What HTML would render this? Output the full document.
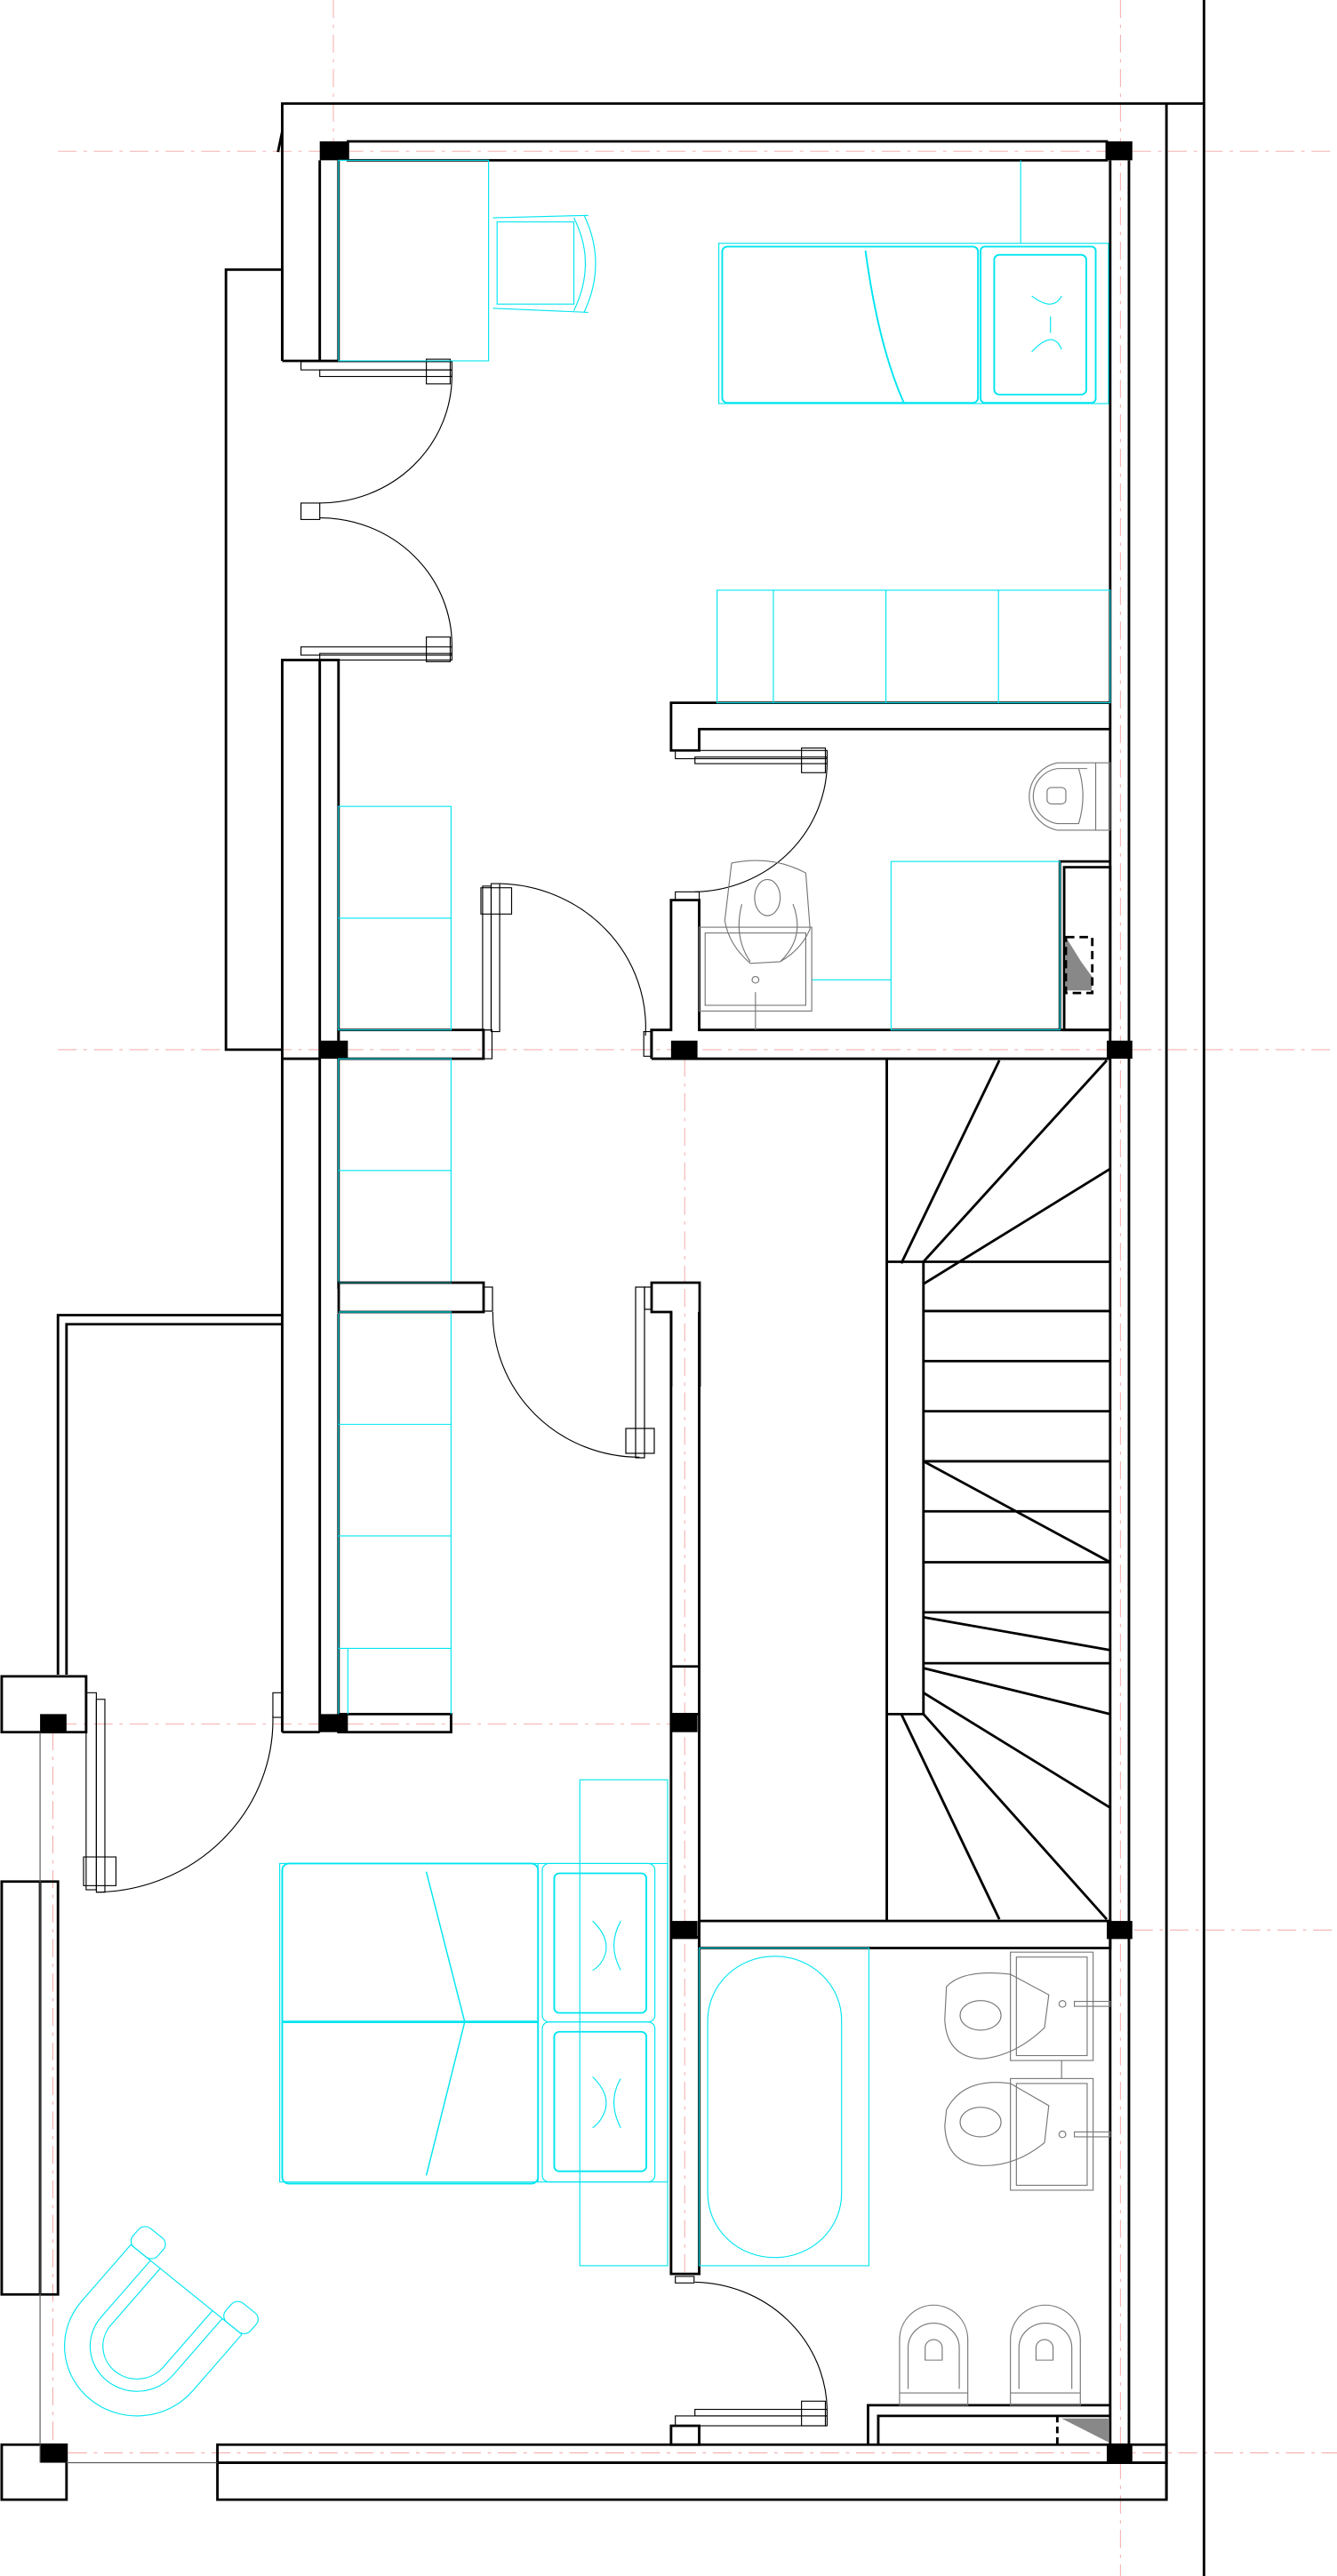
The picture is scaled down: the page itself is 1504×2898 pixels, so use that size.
<!DOCTYPE html>
<html><head><meta charset="utf-8"><style>html,body{margin:0;padding:0;background:#fff}svg{display:block}</style></head>
<body>
<svg width="1504" height="2898" viewBox="0 0 1504 2898" xmlns="http://www.w3.org/2000/svg" fill="none">
<!-- GROUP A: top half -->
<g transform="scale(0.95918,0.92474)">
 <g stroke="#f4a6a6" stroke-width="1" stroke-dasharray="22,8,4,8">
  <line x1="68" y1="184" x2="1568" y2="184"/>
  <line x1="68" y1="1277" x2="1568" y2="1277"/>
  <line x1="391" y1="0" x2="391" y2="172"/>
  <line x1="1314" y1="0" x2="1314" y2="1568"/>
  <line x1="803" y1="1288" x2="803" y2="1568"/>
 </g>
 <g stroke="#000" stroke-width="3">
  <line x1="1412" y1="0" x2="1412" y2="1568"/>
  <line x1="1368" y1="126" x2="1368" y2="1568"/>
  <polyline points="331,439 331,126 1412,126"/>
  <line x1="326" y1="185" x2="331" y2="160"/>
  <rect x="408" y="172" width="890" height="23"/>
  <line x1="375" y1="195" x2="375" y2="439"/>
  <line x1="397" y1="195" x2="397" y2="439"/>
  <line x1="331" y1="439" x2="397" y2="439"/>
  <line x1="1302" y1="195" x2="1302" y2="1568"/>
  <line x1="1324" y1="195" x2="1324" y2="1568"/>
  <polyline points="331,439 331,328 265,328 265,1277 331,1277"/>
  <polyline points="331,1568 331,803 397,803 397,1568"/>
  <line x1="375" y1="803" x2="375" y2="1568"/>
  <line x1="331" y1="1288" x2="375" y2="1288"/>
  <polyline points="1302,855 787,855 787,913 820,913 820,887 1302,887"/>
  <polyline points="764,1288 764,1253 787,1253 787,1095 820,1095 820,1253 1302,1253"/>
  <line x1="764" y1="1288" x2="1302" y2="1288"/>
  <rect x="397" y="1253" width="170" height="35"/>
  <polyline points="1243,1253 1243,1048 1302,1048"/>
  <rect x="1248" y="1055" width="54" height="198"/>
  <!-- stairs top -->
  <line x1="1040" y1="1288" x2="1040" y2="1568"/>
  <line x1="1083" y1="1535" x2="1083" y2="1568"/>
  <line x1="1040" y1="1535" x2="1302" y2="1535"/>
  <line x1="1172" y1="1290" x2="1057" y2="1537"/>
  <line x1="1298" y1="1290" x2="1083" y2="1535"/>
  <line x1="1302" y1="1422" x2="1083" y2="1562"/>
 </g>
 <g fill="#000">
  <rect x="375" y="172" width="33" height="23"/><rect x="1298" y="172" width="30" height="23"/>
  <rect x="375" y="1266" width="33" height="22"/><rect x="787" y="1266" width="31" height="22"/><rect x="1298" y="1266" width="30" height="22"/>
 </g>
 <path d="M1250 1140 L1268 1170 L1282 1190 L1280 1205 L1250 1205 Z" fill="#888"/>
 <rect x="1250" y="1140" width="31" height="68" stroke="#000" stroke-width="3" stroke-dasharray="10,6"/>
 <!-- doors -->
 <g stroke="#000" stroke-width="1.2">
  <rect x="353" y="440" width="177" height="10"/><rect x="375" y="450" width="155" height="8"/>
  <rect x="500" y="437" width="28" height="30"/>
  <path d="M530 455 A155 155 0 0 1 375 612"/>
  <rect x="353" y="612" width="22" height="20"/>
  <path d="M375 630 A155 155 0 0 1 530 787"/>
  <rect x="353" y="787" width="177" height="10"/><rect x="375" y="795" width="155" height="8"/>
  <rect x="500" y="775" width="28" height="30"/>
  <rect x="792" y="913" width="178" height="10"/><rect x="815" y="921" width="155" height="8"/>
  <rect x="940" y="910" width="28" height="30"/>
  <path d="M970 925 A158 158 0 0 1 815 1085"/>
  <rect x="792" y="1085" width="28" height="10"/>
  <rect x="566" y="1078" width="10" height="175"/><rect x="576" y="1075" width="10" height="180"/>
  <rect x="564" y="1080" width="36" height="32"/>
  <path d="M586 1075 A175 175 0 0 1 757 1260"/>
  <rect x="755" y="1255" width="10" height="30"/>
  <rect x="567" y="1253" width="10" height="35"/>
 </g>
 <!-- cyan furniture -->
 <g stroke="#00e5f0" stroke-width="1.2">
  <rect x="397" y="195" width="176" height="244"/>
  <rect x="583" y="270" width="90" height="100"/>
  <path d="M673 265 Q700 320 673 378 M685 262 Q712 320 685 380 M578 265 L690 262 M578 375 L690 380"/>
  <rect x="843" y="296" width="457" height="195"/>
  <rect x="847" y="300" width="300" height="190" rx="6" stroke-width="2"/>
  <path d="M1015 305 Q1030 420 1060 490" stroke-width="2"/>
  <rect x="1150" y="300" width="135" height="190" rx="5" stroke-width="2"/>
  <rect x="1166" y="310" width="108" height="170" rx="6" stroke-width="2"/>
  <path d="M1210 360 Q1235 380 1245 360 M1210 428 Q1235 400 1245 425 M1232 385 L1232 405"/>
  <line x1="1197" y1="195" x2="1197" y2="296"/>
  <rect x="841" y="718" width="461" height="137"/>
  <line x1="907" y1="718" x2="907" y2="855"/><line x1="1039" y1="718" x2="1039" y2="855"/><line x1="1171" y1="718" x2="1171" y2="855"/>
  <rect x="397" y="981" width="132" height="272"/><line x1="397" y1="1117" x2="529" y2="1117"/>
  <rect x="397" y="1288" width="132" height="280"/><line x1="397" y1="1424" x2="529" y2="1424"/>
  <rect x="1045" y="1048" width="198" height="205"/>
  <line x1="952" y1="1192" x2="1045" y2="1192"/>
 </g>
 <!-- grey sanitary -->
 <g stroke="#777" stroke-width="1.2">
  <rect x="1285" y="928" width="17" height="82"/>
  <path d="M1285 928 L1240 928 A42 42 0 0 0 1240 1010 L1285 1010"/>
  <path d="M1275 935 L1240 935 A34 34 0 0 0 1240 1002 L1265 1002 Q1275 968 1265 935"/>
  <rect x="1228" y="958" width="22" height="20" rx="5"/>
  <rect x="820" y="1128" width="132" height="102"/><rect x="827" y="1135" width="118" height="88"/>
  <circle cx="886" cy="1192" r="4"/><line x1="886" y1="1207" x2="886" y2="1253"/>
  <path d="M858 1050 Q905 1040 945 1062 L950 1130 Q940 1155 915 1170 L880 1172 Q855 1150 850 1120 Z"/>
  <ellipse cx="900" cy="1092" rx="15" ry="22"/>
  <path d="M870 1100 Q860 1140 880 1170 M930 1100 Q945 1140 915 1170"/>
 </g>
</g>

<!-- hall wall + jamb near boundary (original coords) -->
<g stroke="#000" stroke-width="2.8">
 <rect x="381" y="1443" width="163" height="33" fill="#fff"/>
 <path d="M755 1560 L755 1476 L733 1476 L733 1443 L787 1443 L787 1560" fill="#fff"/>
</g>
<g stroke="#00e5f0" stroke-width="1.2">
 <line x1="381" y1="1443" x2="508" y2="1443" stroke="#008080"/>
 <line x1="381" y1="1476" x2="508" y2="1476"/>
</g>
<g stroke="#000" stroke-width="1.2">
 <rect x="544" y="1448" width="10" height="27"/>
 <rect x="715" y="1448" width="10" height="192"/><rect x="725" y="1448" width="8" height="25"/>
 <rect x="704" y="1607" width="32" height="28"/>
</g>

<!-- GROUP B: bottom half -->
<g transform="translate(0,1450) scale(0.95918,0.92347)">
 <g stroke="#f4a6a6" stroke-width="1" stroke-dasharray="22,8,4,8">
  <line x1="68" y1="530" x2="787" y2="530"/>
  <line x1="1330" y1="781" x2="1568" y2="781"/>
  <line x1="62" y1="540" x2="62" y2="1408"/>
  <line x1="80" y1="1418" x2="1568" y2="1418"/>
  <line x1="803" y1="0" x2="803" y2="1200"/>
  <line x1="1314" y1="0" x2="1314" y2="1568"/>
 </g>
 <g stroke="#000" stroke-width="3">
  <line x1="1412" y1="0" x2="1412" y2="1568"/>
  <line x1="1368" y1="0" x2="1368" y2="1475"/>
  <line x1="1302" y1="0" x2="1302" y2="1408"/>
  <line x1="1324" y1="0" x2="1324" y2="1408"/>
  <line x1="331" y1="0" x2="331" y2="540"/><line x1="375" y1="0" x2="375" y2="540"/><line x1="397" y1="30" x2="397" y2="518"/>
  <line x1="331" y1="540" x2="375" y2="540"/>
  <rect x="397" y="518" width="132" height="22"/>
  <polyline points="68,470 68,32 331,32"/><polyline points="78,470 78,43 331,43"/>
  <rect x="2" y="472" width="99" height="68"/>
  <rect x="2" y="722" width="66" height="503"/><line x1="47" y1="722" x2="47" y2="1225"/>
  <rect x="2" y="1408" width="76" height="67"/>
  <rect x="255" y="1408" width="1113" height="22"/><rect x="255" y="1430" width="1113" height="45"/>
  <polyline points="787,28 787,1200 820,1200 820,28"/>
  <line x1="787" y1="460" x2="820" y2="460"/><line x1="787" y1="518" x2="820" y2="518"/>
  <line x1="787" y1="790" x2="820" y2="790"/>
  <rect x="820" y="770" width="482" height="33"/>
  <rect x="787" y="1385" width="33" height="23"/>
  <polyline points="1018,1408 1018,1360 1302,1360"/>
  <polyline points="1030,1408 1030,1373 1302,1373"/>
  <line x1="1240" y1="1373" x2="1240" y2="1408" stroke-dasharray="8,5"/>
  <!-- stairs -->
  <line x1="1040" y1="0" x2="1040" y2="770"/>
  <line x1="1083" y1="0" x2="1083" y2="518"/>
  <line x1="1040" y1="518" x2="1083" y2="518"/>
  <line x1="1083" y1="27" x2="1302" y2="27"/><line x1="1083" y1="88" x2="1302" y2="88"/>
  <line x1="1083" y1="149" x2="1302" y2="149"/><line x1="1083" y1="210" x2="1302" y2="210"/>
  <line x1="1083" y1="271" x2="1302" y2="271"/><line x1="1083" y1="333" x2="1302" y2="333"/>
  <line x1="1083" y1="394" x2="1302" y2="394"/><line x1="1083" y1="456" x2="1302" y2="456"/>
  <line x1="1083" y1="210" x2="1302" y2="333"/>
  <line x1="1083" y1="400" x2="1302" y2="440"/>
  <line x1="1083" y1="462" x2="1302" y2="518"/>
  <line x1="1083" y1="492" x2="1302" y2="632"/>
  <line x1="1083" y1="518" x2="1298" y2="768"/>
  <line x1="1057" y1="518" x2="1172" y2="768"/>
 </g>
 <g fill="#000">
  <rect x="375" y="518" width="33" height="22"/><rect x="47" y="518" width="31" height="22"/>
  <rect x="787" y="518" width="31" height="22"/><rect x="787" y="770" width="31" height="22"/>
  <rect x="1298" y="770" width="30" height="22"/><rect x="47" y="1408" width="31" height="22"/>
  <rect x="1298" y="1408" width="30" height="22"/>
 </g>
 <path d="M1245 1376 L1300 1376 L1300 1405 Z" fill="#888"/>
 <g stroke="#555" stroke-width="1.2">
  <line x1="47" y1="540" x2="47" y2="1430"/>
  <line x1="78" y1="1430" x2="255" y2="1430"/>
 </g>
 <!-- doors -->
 <g stroke="#000" stroke-width="1.2">
  <path d="M578 28 A172 175 0 0 0 750 205"/>
  <rect x="101" y="492" width="12" height="240"/><rect x="113" y="500" width="10" height="235"/>
  <rect x="98" y="692" width="38" height="35"/>
  <path d="M113 735 A210 210 0 0 0 320 520"/>
  <rect x="320" y="492" width="11" height="30"/>
  <path d="M815 1210 A158 158 0 0 1 970 1365"/>
  <rect x="792" y="1203" width="22" height="8"/>
  <rect x="815" y="1365" width="155" height="8"/><rect x="792" y="1373" width="178" height="12"/>
  <rect x="940" y="1355" width="28" height="30"/>
 </g>
 <!-- cyan -->
 <g stroke="#00e5f0" stroke-width="1.2">
  <line x1="397" y1="30" x2="397" y2="518"/><line x1="529" y1="30" x2="529" y2="518"/>
  <line x1="397" y1="165" x2="529" y2="165"/><line x1="397" y1="301" x2="529" y2="301"/><line x1="397" y1="438" x2="529" y2="438"/>
  <line x1="408" y1="438" x2="408" y2="518"/>
  <rect x="680" y="598" width="103" height="592"/>
  <rect x="328" y="700" width="455" height="388"/>
  <rect x="331" y="700" width="300" height="390" rx="8" stroke-width="2"/>
  <line x1="331" y1="893" x2="631" y2="893" stroke-width="3"/>
  <path d="M500 710 L545 893 L500 1080" stroke-width="1.5"/>
  <line x1="631" y1="700" x2="631" y2="1088"/>
  <rect x="636" y="700" width="132" height="193" rx="8"/>
  <rect x="636" y="893" width="132" height="195" rx="8"/>
  <rect x="650" y="712" width="108" height="170" rx="6" stroke-width="2"/>
  <rect x="650" y="905" width="108" height="170" rx="6" stroke-width="2"/>
  <path d="M695 770 Q715 790 710 810 Q705 825 695 830 M728 770 Q712 800 728 830"/>
  <path d="M695 960 Q715 980 710 1000 Q705 1015 695 1022 M728 962 Q712 990 728 1022"/>
  <rect x="820" y="803" width="199" height="387"/>
  <rect x="830" y="813" width="157" height="367" rx="78"/>
  <g transform="translate(180,1265) rotate(40)">
   <path d="M-85 -60 L-85 30 A85 85 0 0 0 85 30 L85 -60"/>
   <path d="M-55 -60 L-55 30 A55 55 0 0 0 55 30 L55 -60"/>
   <path d="M-40 -60 L-40 30 A40 40 0 0 0 40 30 L40 -60"/>
   <line x1="-85" y1="-60" x2="85" y2="-60"/>
   <rect x="-90" y="-90" width="38" height="30" rx="10"/><rect x="52" y="-90" width="38" height="30" rx="10"/>
  </g>
 </g>
 <!-- grey sanitary -->
 <g stroke="#777" stroke-width="1.2">
  <rect x="1185" y="808" width="97" height="132"/><rect x="1192" y="814" width="83" height="120"/>
  <rect x="1185" y="962" width="97" height="136"/><rect x="1192" y="968" width="83" height="124"/>
  <line x1="1245" y1="940" x2="1245" y2="962"/>
  <circle cx="1246" cy="871" r="4"/><circle cx="1246" cy="1030" r="4"/>
  <rect x="1260" y="868" width="42" height="6"/><rect x="1260" y="1027" width="42" height="6"/>
  <path d="M1110 850 Q1130 828 1185 835 L1230 860 L1225 900 Q1190 935 1150 938 Q1110 935 1108 890 Z"/>
  <ellipse cx="1150" cy="885" rx="24" ry="18"/>
  <path d="M1110 1000 Q1130 960 1185 968 L1230 995 L1225 1040 Q1190 1070 1150 1068 Q1110 1065 1108 1020 Z"/>
  <ellipse cx="1150" cy="1015" rx="24" ry="18"/>
  <path d="M1055 1360 L1055 1280 A40 42 0 0 1 1135 1280 L1135 1360 Z"/>
  <path d="M1065 1340 L1065 1290 A30 30 0 0 1 1125 1290 L1125 1340"/>
  <path d="M1085 1305 L1085 1290 A10 10 0 0 1 1105 1290 L1105 1305 Z"/>
  <path d="M1185 1360 L1185 1280 A41 42 0 0 1 1267 1280 L1267 1360 Z"/>
  <path d="M1195 1340 L1195 1290 A31 30 0 0 1 1257 1290 L1257 1340"/>
  <path d="M1215 1305 L1215 1290 A10 10 0 0 1 1235 1290 L1235 1305 Z"/>
  <line x1="1055" y1="1345" x2="1135" y2="1345"/><line x1="1185" y1="1345" x2="1267" y2="1345"/>
 </g>
</g>
</svg>
</body></html>
